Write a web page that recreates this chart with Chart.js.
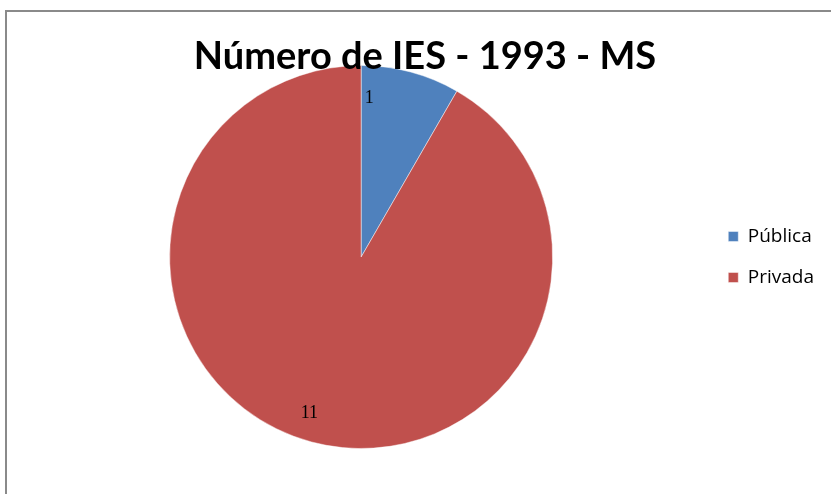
<!DOCTYPE html>
<html>
<head>
<meta charset="utf-8">
<script src="https://cdn.jsdelivr.net/npm/chart.js@4"></script>
<style>
  html, body { margin: 0; padding: 0; background: #fff; overflow: hidden; }
  #frame { position: absolute; left: 5px; top: 10px; width: 900px; height: 600px;
           border-left: 2px solid #8a8a8a; border-top: 2px solid #8a8a8a; }
  #pieChart { position: absolute; left: 0; top: 0; }
</style>
</head>
<body>
<div id="frame"></div>
<canvas id="pieChart" width="831" height="494"></canvas>
<script>
const categories = ['Pública', 'Privada'];
const counts = [1, 11];
const chartTitle = 'Número de IES - 1993 - MS';

// title drawn over the pie, like the spreadsheet chart does
const overlayTitle = {
    id: 'overlayTitle',
    afterDraw(chart, args, opts) {
        const ctx = chart.ctx;
        ctx.save();
        ctx.font = opts.font;
        ctx.fillStyle = '#000';
        ctx.textAlign = 'center';
        ctx.textBaseline = 'alphabetic';
        ctx.fillText(opts.text, opts.x, opts.y);
        ctx.restore();
    }
};

// draws the value of each slice inside it
const sliceLabels = {
    id: 'sliceLabels',
    afterDatasetsDraw(chart, args, opts) {
        const ctx = chart.ctx;
        const meta = chart.getDatasetMeta(0);
        ctx.save();
        ctx.font = opts.font;
        ctx.fillStyle = '#000';
        ctx.textAlign = 'center';
        ctx.textBaseline = 'middle';
        meta.data.forEach((arc, i) => {
            const p = arc.getProps(['x', 'y', 'startAngle', 'endAngle', 'outerRadius']);
            const a = p.startAngle + (p.endAngle - p.startAngle) * opts.spot[i];
            const r = p.outerRadius * opts.dist[i];
            ctx.fillText(String(counts[i]), p.x + Math.cos(a) * r, p.y + Math.sin(a) * r);
        });
        ctx.restore();
    }
};

const ctx = document.getElementById('pieChart').getContext('2d');
const pieChart = new Chart(ctx, {
    type: 'pie',
    data: {
        labels: categories,
        datasets: [{
            data: counts,
            backgroundColor: ['#4f81bd', '#c0504d'],
            borderColor: 'rgba(255,255,255,0.45)',
            borderWidth: 1
        }]
    },
    options: {
        responsive: false,
        animation: false,
        layout: { padding: { left: 16, right: 7, top: 65, bottom: 45 } },
        plugins: {
            title: { display: false },
            legend: {
                position: 'right',
                labels: {
                    boxWidth: 10,
                    boxHeight: 10,
                    padding: 22,
                    color: '#000',
                    font: { family: 'Open Sans', size: 19 }
                }
            },
            tooltip: { enabled: false },
            overlayTitle: {
                text: chartTitle,
                font: 'bold 38px Lato',
                x: 425,
                y: 69
            },
            sliceLabels: {
                font: '18px "Liberation Serif"',
                spot: [0.097, 0.51],
                dist: [0.83, 0.86]
            }
        }
    },
    plugins: [sliceLabels, overlayTitle]
});
</script>
</body>
</html>
